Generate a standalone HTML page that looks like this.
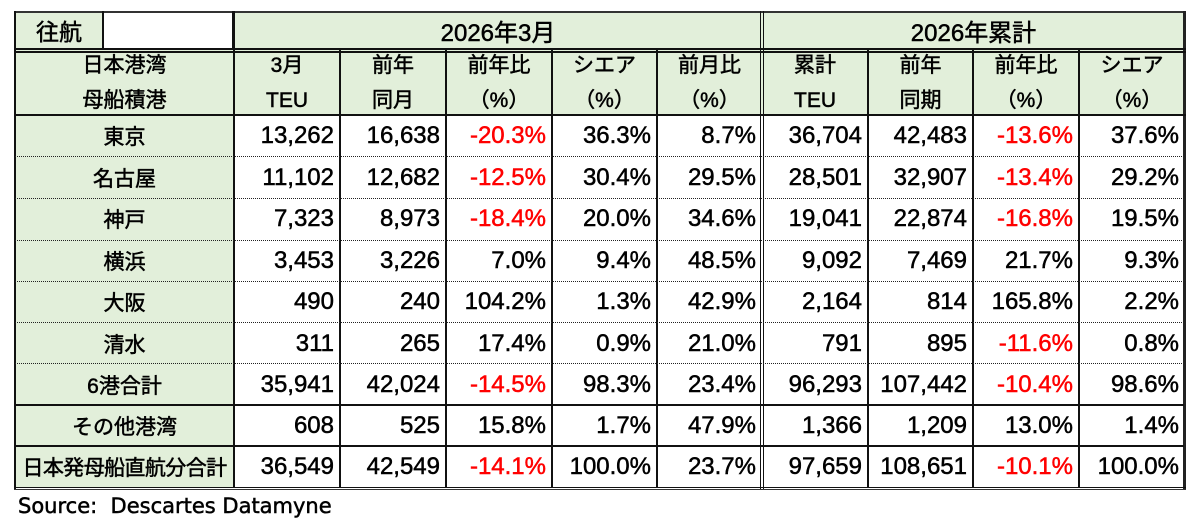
<!DOCTYPE html>
<html><head><meta charset="utf-8"><style>
*{margin:0;padding:0;box-sizing:border-box}
body{width:1200px;height:524px;background:#fff;position:relative;overflow:hidden;font-family:"Liberation Sans","Noto Sans CJK JP",sans-serif;color:#000;-webkit-text-stroke-width:0.5px}
.a{position:absolute}
.bg{position:absolute;background:#E2EFDA}
.ln{position:absolute;background:#111}
.dl{position:absolute;height:0;border-top:1.2px dotted #222}
.c{position:absolute;display:flex;align-items:center;justify-content:center;white-space:nowrap}
.hd{font-size:21px;line-height:35px;text-align:center;flex-direction:column}
.lb{font-size:21px}
.n{justify-content:flex-end;padding-right:6px;font-size:24px}
.r{color:#ff0000}
</style></head><body>
<!-- backgrounds -->
<div class="bg" style="left:15px;top:11px;width:88px;height:38px"></div>
<div class="bg" style="left:234px;top:11px;width:951px;height:38px"></div>
<div class="bg" style="left:15px;top:50px;width:1170px;height:65px"></div>
<div class="bg" style="left:15px;top:115px;width:219px;height:373px"></div>

<!-- row1 text -->
<div class="c" style="left:15px;top:11px;width:88px;height:38px;font-size:23px">往航</div>
<div class="c" style="left:234px;top:11px;width:528px;height:38px;font-size:24px">2026年3月</div>
<div class="c" style="left:763px;top:11px;width:421px;height:38px;font-size:24px">2026年累計</div>

<!-- header row 2 -->
<div class="c hd" style="left:15px;top:50px;width:219px;height:65px"><span>日本港湾</span><span>母船積港</span></div>
<div class="c hd" style="left:234px;top:50px;width:106px;height:65px"><span>3月</span><span>TEU</span></div>
<div class="c hd" style="left:340px;top:50px;width:106px;height:65px"><span>前年</span><span>同月</span></div>
<div class="c hd" style="left:446px;top:50px;width:106px;height:65px"><span>前年比</span><span>（%）</span></div>
<div class="c hd" style="left:552px;top:50px;width:105px;height:65px"><span>シエア</span><span>（%）</span></div>
<div class="c hd" style="left:657px;top:50px;width:105px;height:65px"><span>前月比</span><span>（%）</span></div>
<div class="c hd" style="left:762px;top:50px;width:106px;height:65px"><span>累計</span><span>TEU</span></div>
<div class="c hd" style="left:868px;top:50px;width:105px;height:65px"><span>前年</span><span>同期</span></div>
<div class="c hd" style="left:973px;top:50px;width:106px;height:65px"><span>前年比</span><span>（%）</span></div>
<div class="c hd" style="left:1079px;top:50px;width:106px;height:65px"><span>シエア</span><span>（%）</span></div>

<!-- data rows -->
<div class="c lb" style="left:15px;top:115px;width:219px;height:42px">東京</div>
<div class="c lb" style="left:15px;top:157px;width:219px;height:41px">名古屋</div>
<div class="c lb" style="left:15px;top:198px;width:219px;height:42px">神戸</div>
<div class="c lb" style="left:15px;top:240px;width:219px;height:41px">横浜</div>
<div class="c lb" style="left:15px;top:281px;width:219px;height:42px">大阪</div>
<div class="c lb" style="left:15px;top:323px;width:219px;height:41px">清水</div>
<div class="c lb" style="left:15px;top:364px;width:219px;height:41px">6港合計</div>
<div class="c lb" style="left:15px;top:405px;width:219px;height:41px">その他港湾</div>
<div class="c lb" style="left:15px;top:446px;width:219px;height:42px;letter-spacing:-0.6px">日本発母船直航分合計</div>

<!-- row 1 -->
<div class="c n" style="left:234px;top:115px;width:106px;height:42px">13,262</div>
<div class="c n" style="left:340px;top:115px;width:106px;height:42px">16,638</div>
<div class="c n r" style="left:446px;top:115px;width:106px;height:42px">-20.3%</div>
<div class="c n" style="left:552px;top:115px;width:105px;height:42px">36.3%</div>
<div class="c n" style="left:657px;top:115px;width:105px;height:42px">8.7%</div>
<div class="c n" style="left:762px;top:115px;width:106px;height:42px">36,704</div>
<div class="c n" style="left:868px;top:115px;width:105px;height:42px">42,483</div>
<div class="c n r" style="left:973px;top:115px;width:106px;height:42px">-13.6%</div>
<div class="c n" style="left:1079px;top:115px;width:106px;height:42px">37.6%</div>
<!-- row 2 -->
<div class="c n" style="left:234px;top:157px;width:106px;height:41px">11,102</div>
<div class="c n" style="left:340px;top:157px;width:106px;height:41px">12,682</div>
<div class="c n r" style="left:446px;top:157px;width:106px;height:41px">-12.5%</div>
<div class="c n" style="left:552px;top:157px;width:105px;height:41px">30.4%</div>
<div class="c n" style="left:657px;top:157px;width:105px;height:41px">29.5%</div>
<div class="c n" style="left:762px;top:157px;width:106px;height:41px">28,501</div>
<div class="c n" style="left:868px;top:157px;width:105px;height:41px">32,907</div>
<div class="c n r" style="left:973px;top:157px;width:106px;height:41px">-13.4%</div>
<div class="c n" style="left:1079px;top:157px;width:106px;height:41px">29.2%</div>
<!-- row 3 -->
<div class="c n" style="left:234px;top:198px;width:106px;height:42px">7,323</div>
<div class="c n" style="left:340px;top:198px;width:106px;height:42px">8,973</div>
<div class="c n r" style="left:446px;top:198px;width:106px;height:42px">-18.4%</div>
<div class="c n" style="left:552px;top:198px;width:105px;height:42px">20.0%</div>
<div class="c n" style="left:657px;top:198px;width:105px;height:42px">34.6%</div>
<div class="c n" style="left:762px;top:198px;width:106px;height:42px">19,041</div>
<div class="c n" style="left:868px;top:198px;width:105px;height:42px">22,874</div>
<div class="c n r" style="left:973px;top:198px;width:106px;height:42px">-16.8%</div>
<div class="c n" style="left:1079px;top:198px;width:106px;height:42px">19.5%</div>
<!-- row 4 -->
<div class="c n" style="left:234px;top:240px;width:106px;height:41px">3,453</div>
<div class="c n" style="left:340px;top:240px;width:106px;height:41px">3,226</div>
<div class="c n" style="left:446px;top:240px;width:106px;height:41px">7.0%</div>
<div class="c n" style="left:552px;top:240px;width:105px;height:41px">9.4%</div>
<div class="c n" style="left:657px;top:240px;width:105px;height:41px">48.5%</div>
<div class="c n" style="left:762px;top:240px;width:106px;height:41px">9,092</div>
<div class="c n" style="left:868px;top:240px;width:105px;height:41px">7,469</div>
<div class="c n" style="left:973px;top:240px;width:106px;height:41px">21.7%</div>
<div class="c n" style="left:1079px;top:240px;width:106px;height:41px">9.3%</div>
<!-- row 5 -->
<div class="c n" style="left:234px;top:281px;width:106px;height:42px">490</div>
<div class="c n" style="left:340px;top:281px;width:106px;height:42px">240</div>
<div class="c n" style="left:446px;top:281px;width:106px;height:42px">104.2%</div>
<div class="c n" style="left:552px;top:281px;width:105px;height:42px">1.3%</div>
<div class="c n" style="left:657px;top:281px;width:105px;height:42px">42.9%</div>
<div class="c n" style="left:762px;top:281px;width:106px;height:42px">2,164</div>
<div class="c n" style="left:868px;top:281px;width:105px;height:42px">814</div>
<div class="c n" style="left:973px;top:281px;width:106px;height:42px">165.8%</div>
<div class="c n" style="left:1079px;top:281px;width:106px;height:42px">2.2%</div>
<!-- row 6 -->
<div class="c n" style="left:234px;top:323px;width:106px;height:41px">311</div>
<div class="c n" style="left:340px;top:323px;width:106px;height:41px">265</div>
<div class="c n" style="left:446px;top:323px;width:106px;height:41px">17.4%</div>
<div class="c n" style="left:552px;top:323px;width:105px;height:41px">0.9%</div>
<div class="c n" style="left:657px;top:323px;width:105px;height:41px">21.0%</div>
<div class="c n" style="left:762px;top:323px;width:106px;height:41px">791</div>
<div class="c n" style="left:868px;top:323px;width:105px;height:41px">895</div>
<div class="c n r" style="left:973px;top:323px;width:106px;height:41px">-11.6%</div>
<div class="c n" style="left:1079px;top:323px;width:106px;height:41px">0.8%</div>
<!-- row 7 -->
<div class="c n" style="left:234px;top:364px;width:106px;height:41px">35,941</div>
<div class="c n" style="left:340px;top:364px;width:106px;height:41px">42,024</div>
<div class="c n r" style="left:446px;top:364px;width:106px;height:41px">-14.5%</div>
<div class="c n" style="left:552px;top:364px;width:105px;height:41px">98.3%</div>
<div class="c n" style="left:657px;top:364px;width:105px;height:41px">23.4%</div>
<div class="c n" style="left:762px;top:364px;width:106px;height:41px">96,293</div>
<div class="c n" style="left:868px;top:364px;width:105px;height:41px">107,442</div>
<div class="c n r" style="left:973px;top:364px;width:106px;height:41px">-10.4%</div>
<div class="c n" style="left:1079px;top:364px;width:106px;height:41px">98.6%</div>
<!-- row 8 -->
<div class="c n" style="left:234px;top:405px;width:106px;height:41px">608</div>
<div class="c n" style="left:340px;top:405px;width:106px;height:41px">525</div>
<div class="c n" style="left:446px;top:405px;width:106px;height:41px">15.8%</div>
<div class="c n" style="left:552px;top:405px;width:105px;height:41px">1.7%</div>
<div class="c n" style="left:657px;top:405px;width:105px;height:41px">47.9%</div>
<div class="c n" style="left:762px;top:405px;width:106px;height:41px">1,366</div>
<div class="c n" style="left:868px;top:405px;width:105px;height:41px">1,209</div>
<div class="c n" style="left:973px;top:405px;width:106px;height:41px">13.0%</div>
<div class="c n" style="left:1079px;top:405px;width:106px;height:41px">1.4%</div>
<!-- row 9 -->
<div class="c n" style="left:234px;top:446px;width:106px;height:42px">36,549</div>
<div class="c n" style="left:340px;top:446px;width:106px;height:42px">42,549</div>
<div class="c n r" style="left:446px;top:446px;width:106px;height:42px">-14.1%</div>
<div class="c n" style="left:552px;top:446px;width:105px;height:42px">100.0%</div>
<div class="c n" style="left:657px;top:446px;width:105px;height:42px">23.7%</div>
<div class="c n" style="left:762px;top:446px;width:106px;height:42px">97,659</div>
<div class="c n" style="left:868px;top:446px;width:105px;height:42px">108,651</div>
<div class="c n r" style="left:973px;top:446px;width:106px;height:42px">-10.1%</div>
<div class="c n" style="left:1079px;top:446px;width:106px;height:42px">100.0%</div>

<!-- lines -->
<div class="ln" style="left:14px;top:10.5px;width:1172px;height:2px;background:#333"></div>
<div class="ln" style="left:14px;top:11px;width:2px;height:478px"></div>
<div class="ln" style="left:1183px;top:11px;width:2.5px;height:479px;background:#222"></div>
<div class="ln" style="left:14px;top:486.5px;width:1172px;height:1.2px"></div>
<div class="ln" style="left:14px;top:488.7px;width:1172px;height:1.5px;background:#333"></div>
<div class="ln" style="left:102px;top:11px;width:2px;height:38px"></div>
<div class="ln" style="left:232px;top:11px;width:2.5px;height:38px"></div>
<div class="ln" style="left:14px;top:48.3px;width:1172px;height:1.6px"></div>
<div class="ln" style="left:14px;top:51px;width:1172px;height:1.5px"></div>
<div class="ln" style="left:14px;top:113.5px;width:1172px;height:2.5px"></div>
<div class="ln" style="left:760px;top:11px;width:1.3px;height:478px"></div>
<div class="ln" style="left:762.7px;top:11px;width:1.3px;height:478px"></div>
<div class="ln" style="left:233.2px;top:50px;width:1.8px;height:438px"></div>
<div class="ln" style="left:339.3px;top:50px;width:1.6px;height:438px"></div>
<div class="ln" style="left:445.3px;top:50px;width:1.6px;height:438px"></div>
<div class="ln" style="left:551.2px;top:50px;width:1.6px;height:438px"></div>
<div class="ln" style="left:656.3px;top:50px;width:1.6px;height:438px"></div>
<div class="ln" style="left:867.2px;top:50px;width:1.6px;height:438px"></div>
<div class="ln" style="left:972.3px;top:50px;width:1.6px;height:438px"></div>
<div class="ln" style="left:1078.2px;top:50px;width:1.6px;height:438px"></div>
<div class="dl" style="left:15px;top:156.3px;width:1169px"></div>
<div class="dl" style="left:15px;top:197.8px;width:1169px"></div>
<div class="dl" style="left:15px;top:239.5px;width:1169px"></div>
<div class="dl" style="left:15px;top:280.6px;width:1169px"></div>
<div class="dl" style="left:15px;top:322.3px;width:1169px"></div>
<div class="dl" style="left:15px;top:363px;width:1169px"></div>
<div class="ln" style="left:15px;top:404.3px;width:1169px;height:1.5px"></div>
<div class="ln" style="left:15px;top:445.3px;width:1169px;height:1.5px"></div>

<div class="a" style="left:18px;top:493px;font-family:'DejaVu Sans',sans-serif;font-size:21px;line-height:26px;white-space:nowrap">Source:&nbsp; Descartes Datamyne</div>
</body></html>
